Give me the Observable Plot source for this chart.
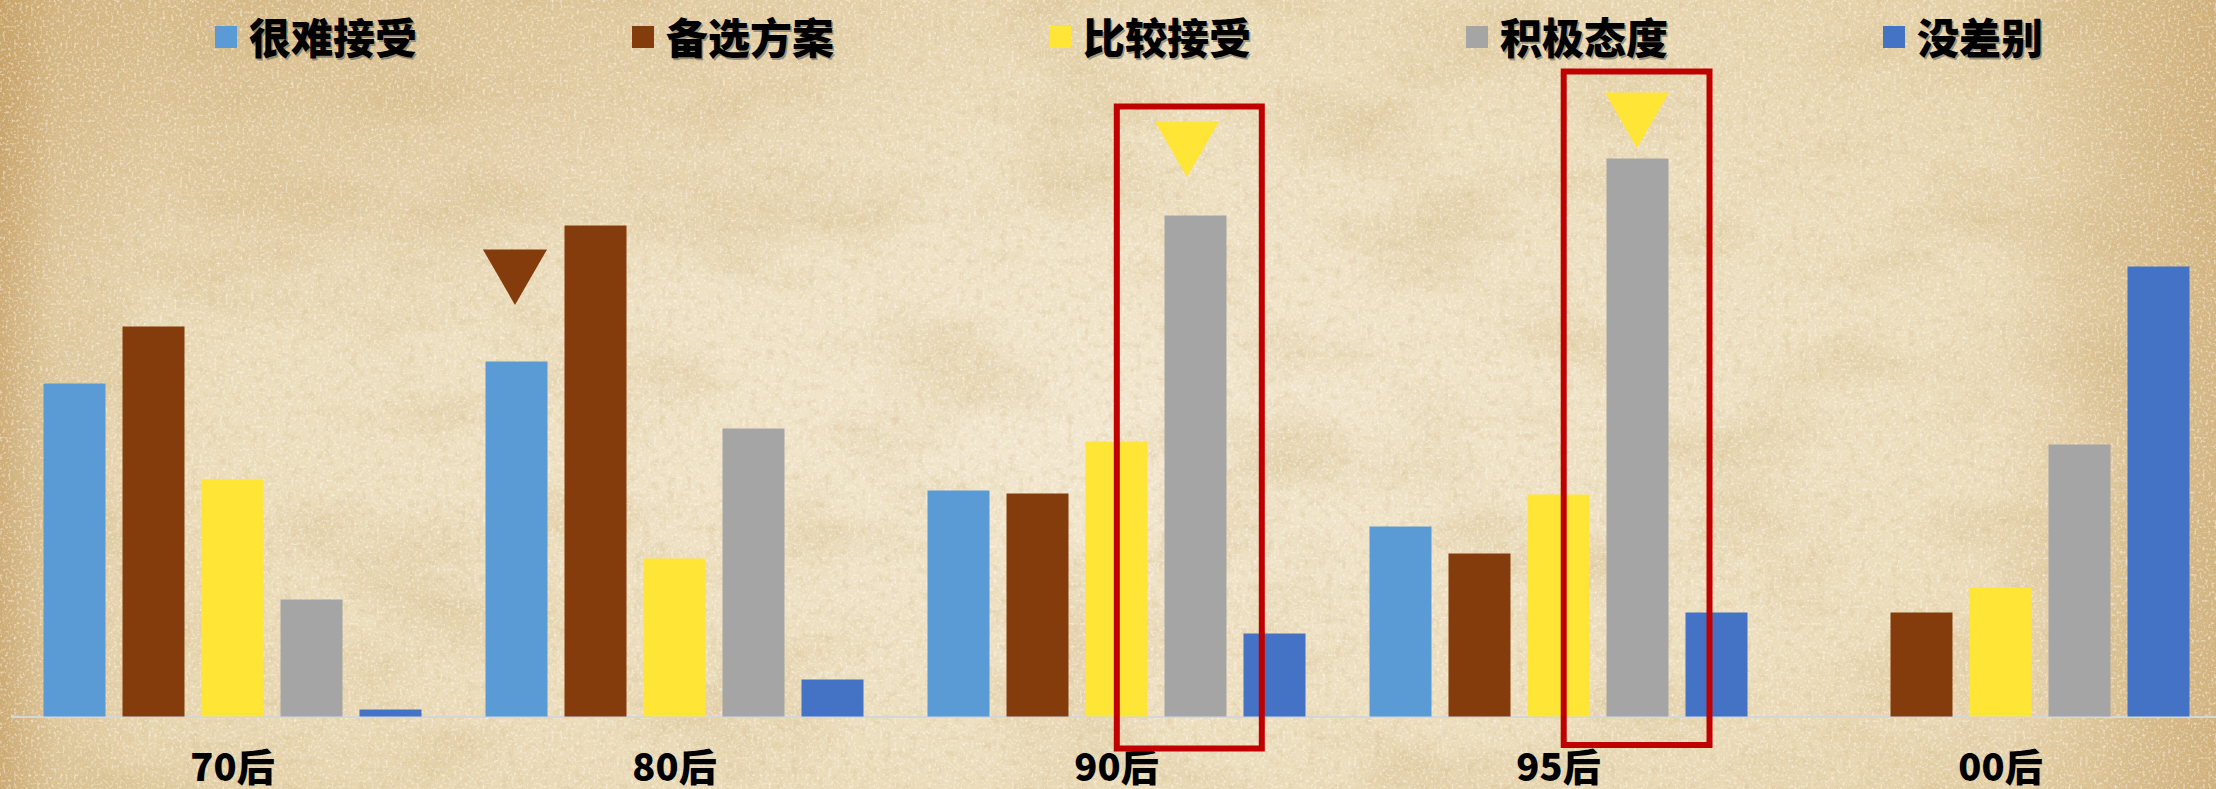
<!DOCTYPE html>
<html>
<head>
<meta charset="utf-8">
<script src="https://cdn.jsdelivr.net/npm/d3@7"></script>
<script src="https://cdn.jsdelivr.net/npm/@observablehq/plot@0.6"></script>
<style>
  html, body { margin: 0; padding: 0; }
  body {
    width: 2216px; height: 789px; overflow: hidden;
    font-family: "Noto Sans CJK SC", "Noto Sans", sans-serif;
    background:
      url("data:image/svg+xml;utf8,<svg xmlns='http://www.w3.org/2000/svg' width='2216' height='789'><filter id='n' x='0' y='0' width='100%25' height='100%25'><feTurbulence type='fractalNoise' baseFrequency='0.35' numOctaves='3' seed='4'/><feColorMatrix values='0 0 0 0 1  0 0 0 0 0.98  0 0 0 0 0.94  0 0 0 1.6 -0.8'/></filter><rect width='2216' height='789' filter='url(%23n)'/></svg>"),
      url("data:image/svg+xml;utf8,<svg xmlns='http://www.w3.org/2000/svg' width='2216' height='789'><filter id='d' x='0' y='0' width='100%25' height='100%25'><feTurbulence type='fractalNoise' baseFrequency='0.12' numOctaves='3' seed='21'/><feColorMatrix values='0 0 0 0 0.6  0 0 0 0 0.45  0 0 0 0 0.22  0 0 0 0.7 -0.33'/></filter><rect width='2216' height='789' filter='url(%23d)'/></svg>"),
      url("data:image/svg+xml;utf8,<svg xmlns='http://www.w3.org/2000/svg' width='2216' height='789'><filter id='m' x='0' y='0' width='100%25' height='100%25'><feTurbulence type='fractalNoise' baseFrequency='0.006 0.012' numOctaves='5' seed='11'/><feColorMatrix values='0 0 0 0 0.62  0 0 0 0 0.45  0 0 0 0 0.2  0 0 0 0.8 -0.36'/></filter><rect width='2216' height='789' filter='url(%23m)'/></svg>"),
      linear-gradient(to right, rgba(180,130,60,0.5) 0%, rgba(180,130,60,0.15) 2.5%, rgba(180,130,60,0) 7%, rgba(180,130,60,0) 90%, rgba(180,130,60,0.25) 96%, rgba(180,130,60,0.4) 100%),
      radial-gradient(ellipse at 10% 0%, rgba(190,145,80,0.35) 0%, rgba(190,145,80,0) 30%),
      radial-gradient(ellipse at 50% 55%, #f2e7cf 0%, #ecddbc 55%, #e2cda1 100%);
  }
  #legend { position: relative; height: 62px; }
  .item { position: absolute; top: 0; height: 74px; display: flex; align-items: center; }
  .sw { width: 22px; height: 22px; margin-right: 12px; }
  .lt { font-size: 42px; font-weight: 900; color: #000; position: relative; top: -2px;
        text-shadow: 1.5px 1.5px 0 rgba(60,60,60,0.45); }
</style>
</head>
<body>
<div id="legend"></div>
<div id="chart"></div>
<script>
const groups = ["70后", "80后", "90后", "95后", "00后"];
const series = ["很难接受", "备选方案", "比较接受", "积极态度", "没差别"];
const seriesColors = ["#5b9bd5", "#843c0c", "#ffe535", "#a5a5a5", "#4472c4"];

const hardToAccept = [33.3, 35.5, 22.6, 19.0, null];
const backupPlan   = [39.0, 49.1, 22.3, 16.3, 10.4];
const fairlyAccept = [23.7, 15.8, 27.5, 22.2, 12.9];
const positive     = [11.7, 28.8, 50.1, 55.8, 27.2];
const noDifference = [0.7, 3.7, 8.3, 10.4, 45.0];

const markerGroups = ["80后", "90后", "95后"];
const markerSeries = ["很难接受", "积极态度", "积极态度"];
const markerTone   = ["备选方案", "比较接受", "比较接受"];
const markerValues = [44.9, 57.7, 60.6];

const highlightGroups = ["90后", "95后"];
const highlightTop    = [61.0, 64.5];
const highlightBottom = [-3.2, -2.85];

const seriesValues = [hardToAccept, backupPlan, fairlyAccept, positive, noDifference];
const data = [];
groups.forEach((g, gi) => series.forEach((s, si) => {
  const v = seriesValues[si][gi];
  if (v != null) data.push({group: g, series: s, value: v});
}));
const markers = markerGroups.map((g, i) => ({group: g, series: markerSeries[i], tone: markerTone[i], value: markerValues[i]}));
const highlights = highlightGroups.map((g, i) => ({group: g, series: "积极态度", top: highlightTop[i], bottom: highlightBottom[i]}));

// legend
const legend = document.getElementById("legend");
series.forEach((s, i) => {
  const it = document.createElement("div");
  it.className = "item";
  it.style.left = (215 + i * 417) + "px";
  it.innerHTML = `<div class="sw" style="background:${seriesColors[i]}"></div><div class="lt">${s}</div>`;
  legend.appendChild(it);
});

const triangleDx = [-2, -9, -1];
const insets = [[-47.7, -35.3], [-42.8, -41]];

const plot = Plot.plot({
  width: 2216,
  height: 727,
  marginLeft: 9.5,
  marginRight: -6.5,
  marginTop: 0,
  marginBottom: 72.5,
  style: {background: "transparent", fontFamily: "'Noto Sans CJK SC', sans-serif", fontSize: "38px", fontWeight: 900, color: "#000", overflow: "visible"},
  fx: {domain: groups, padding: 0, axis: "bottom", label: null, tickSize: 0, tickPadding: 37},
  x: {domain: series, paddingInner: 0.216, paddingOuter: 0.4, axis: null},
  y: {domain: [0, 65.45], axis: null},
  color: {domain: series, range: seriesColors},
  marks: [
    Plot.ruleY([0], {stroke: "#d4d6dc", strokeWidth: 2}),
    Plot.barY(data, {fx: "group", x: "series", y: "value", fill: "series"}),
    ...markers.map((m, i) => Plot.dot([m], {fx: "group", x: "series", y: "value", fill: "tone", symbol: "triangle", r: 23.8, rotate: 180, dx: triangleDx[i]})),
    ...highlights.map((h, i) => Plot.barY([h], {fx: "group", x: "series", y1: "bottom", y2: "top", fill: "none", stroke: "#c00000", strokeWidth: 6, insetLeft: insets[i][0], insetRight: insets[i][1]}))
  ]
});
document.getElementById("chart").appendChild(plot);
</script>
</body>
</html>
